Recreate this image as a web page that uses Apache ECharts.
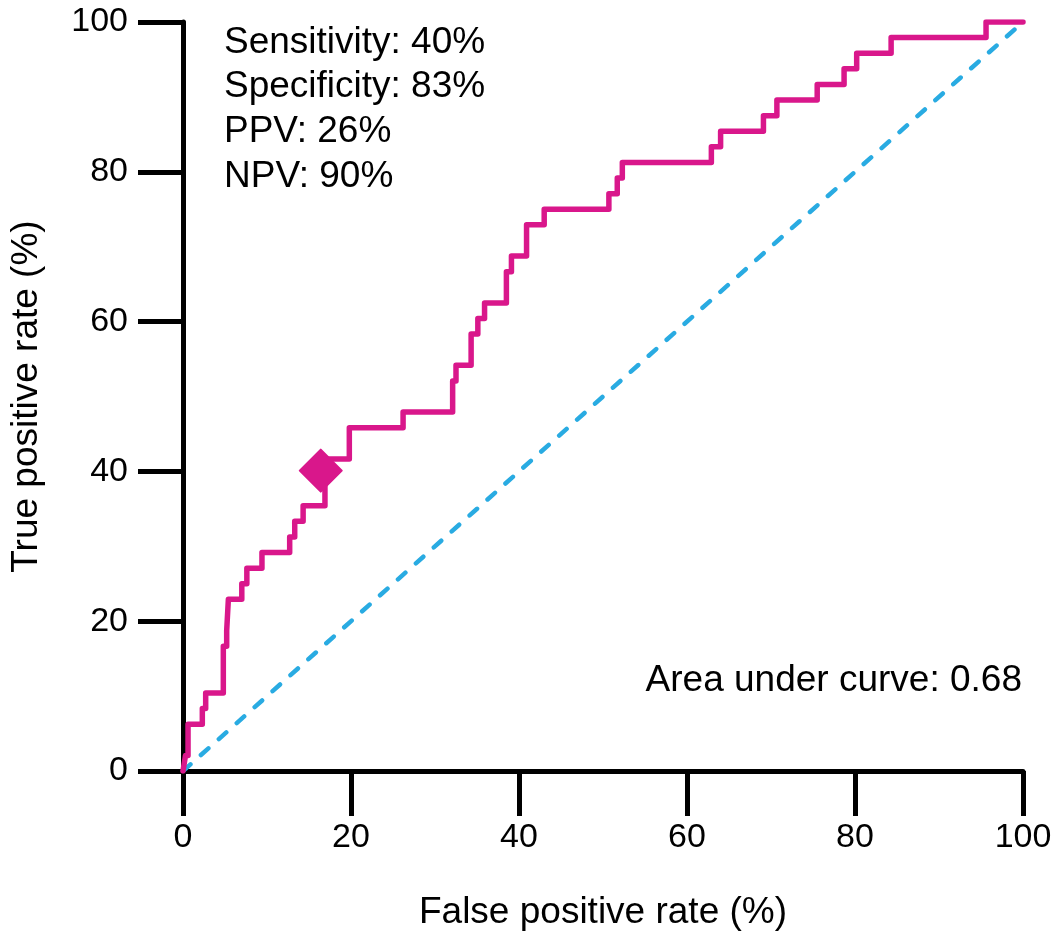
<!DOCTYPE html>
<html>
<head>
<meta charset="utf-8">
<script src="https://cdn.jsdelivr.net/npm/echarts@6/dist/echarts.min.js"></script>
<style>
html,body{margin:0;padding:0;background:#fff;}
#main{width:1062px;height:937px;}
</style>
</head>
<body>
<div id="main"></div>
<script>
// ROC curve corner points (false positive rate %, true positive rate %)
const rocFpr = [0, 0.3, 0.6, 0.6, 2.3, 2.3, 2.7, 2.7, 4.8, 4.8, 5.2, 5.2, 5.4, 5.4, 7.0, 7.0, 7.6, 7.6, 9.4, 9.4,
  12.7, 12.7, 13.3, 13.3, 14.3, 14.3, 16.9, 16.9, 17.1, 17.1, 19.8, 19.8, 26.2, 26.2, 32.1, 32.1, 32.5, 32.5,
  34.3, 34.3, 35.1, 35.1, 35.9, 35.9, 38.5, 38.5, 39.1, 39.1, 40.9, 40.9, 43.0, 43.0, 50.7, 50.7, 51.7, 51.7,
  52.3, 52.3, 62.9, 62.9, 64.0, 64.0, 69.1, 69.1, 70.7, 70.7, 75.5, 75.5, 78.7, 78.7, 80.2, 80.2, 84.3, 84.3,
  95.6, 95.6, 100];
const rocTpr = [0, 2.08, 2.08, 6.25, 6.25, 8.33, 8.33, 10.42, 10.42, 16.67, 16.67, 18.75, 18.75, 22.92, 22.92, 25.0, 25.0, 27.08, 27.08, 29.17,
  29.17, 31.25, 31.25, 33.33, 33.33, 35.42, 35.42, 39.58, 39.58, 41.67, 41.67, 45.83, 45.83, 47.92, 47.92, 52.08, 52.08, 54.17,
  54.17, 58.33, 58.33, 60.42, 60.42, 62.5, 62.5, 66.67, 66.67, 68.75, 68.75, 72.92, 72.92, 75.0, 75.0, 77.08, 77.08, 79.17,
  79.17, 81.25, 81.25, 83.33, 83.33, 85.42, 85.42, 87.5, 87.5, 89.58, 89.58, 91.67, 91.67, 93.75, 93.75, 95.83, 95.83, 97.92,
  97.92, 100, 100];
// Chance line
const chanceFpr = [0, 100];
const chanceTpr = [0, 100];
// Operating point
const opFpr = [16.4];
const opTpr = [40.1];
// Annotation texts
const statsLines = ['Sensitivity: 40%', 'Specificity: 83%', 'PPV: 26%', 'NPV: 90%'];
const aucText = 'Area under curve: 0.68';

const FONT = '"Liberation Sans", Arial, sans-serif';
const MAGENTA = '#D9178B';
const BLUE = '#29ABE2';

const zip = (a, b) => a.map((v, i) => [v, b[i]]);

const chart = echarts.init(document.getElementById('main'), null, {renderer: 'canvas'});
const axisCommon = {
  type: 'value', min: 0, max: 100, interval: 20,
  axisLine: {show: true, onZero: false, lineStyle: {color: '#000', width: 5}},
  axisTick: {show: true, inside: false, length: 45, lineStyle: {color: '#000', width: 5}},
  splitLine: {show: false},
  nameLocation: 'middle',
  nameTextStyle: {fontFamily: FONT, fontSize: 37, color: '#000'},
  axisLabel: {fontFamily: FONT, fontSize: 34, color: '#000'}
};
chart.setOption({
  animation: false,
  backgroundColor: '#fff',
  grid: {left: 181, right: 39, top: 22, bottom: 166, containLabel: false},
  xAxis: Object.assign({}, axisCommon, {
    name: 'False positive rate (%)', nameGap: 123,
    axisLabel: Object.assign({}, axisCommon.axisLabel, {margin: 50})
  }),
  yAxis: Object.assign({}, axisCommon, {
    name: 'True positive rate (%)', nameGap: 138,
    axisLabel: Object.assign({}, axisCommon.axisLabel, {margin: 55})
  }),
  series: [
    {
      type: 'line', data: zip(chanceFpr, chanceTpr), symbol: 'none', z: 2,
      lineStyle: {color: BLUE, width: 4.5, type: [10, 14], cap: 'round'}
    },
    {
      type: 'line', data: zip(rocFpr, rocTpr), symbol: 'none', z: 3,
      lineStyle: {color: MAGENTA, width: 5.5, join: 'round', cap: 'round'}
    },
    {
      type: 'scatter', data: zip(opFpr, opTpr), symbol: 'diamond', symbolSize: [42, 42], z: 4,
      itemStyle: {color: MAGENTA, opacity: 1, borderColor: MAGENTA, borderWidth: 2, borderJoin: 'round'}
    }
  ],
  graphic: [
    {
      type: 'text', left: 224, top: 20,
      style: {text: statsLines.join('\n'), font: '37px ' + FONT, fill: '#000', lineHeight: 44.7}
    },
    {
      type: 'text', right: 40, top: 662,
      style: {text: aucText, font: '37px ' + FONT, fill: '#000', textAlign: 'right'}
    }
  ]
});
</script>
</body>
</html>
